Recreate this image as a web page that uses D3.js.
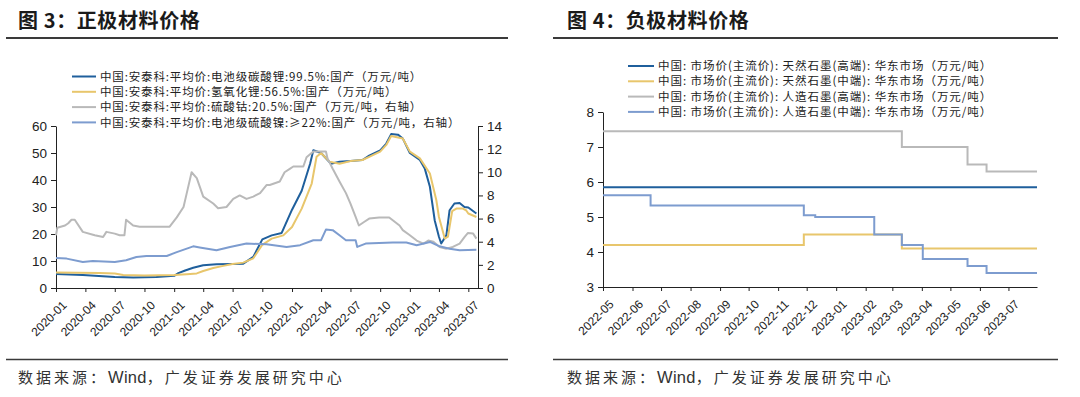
<!DOCTYPE html>
<html>
<head>
<meta charset="utf-8">
<script src="https://cdn.jsdelivr.net/npm/d3@7"></script>
<style>
  html, body { margin: 0; padding: 0; background: #fff; }
  svg { display: block; }
  .cjk { font-family: "Noto Sans CJK SC", sans-serif; }
</style>
</head>
<body>
<div id="chart"></div>
<script>
const parse = d3.timeParse('%Y-%m-%d');

// 图3: 正极材料价格 (万元/吨)
const li2co3 = [
  ['2020-01-01', 5.2], ['2020-03-24', 4.8], ['2020-07-01', 4.1], ['2020-08-27', 3.9], ['2020-11-07', 4.1],
  ['2021-01-01', 4.5], ['2021-01-14', 5.5], ['2021-02-04', 6.5], ['2021-03-01', 7.5], ['2021-04-01', 8.4],
  ['2021-05-12', 8.8], ['2021-07-01', 8.9], ['2021-08-03', 9.0], ['2021-09-03', 11.5], ['2021-10-01', 18],
  ['2021-10-30', 19.5], ['2021-11-30', 20.4], ['2022-01-01', 29], ['2022-01-31', 36], ['2022-02-26', 46],
  ['2022-03-08', 51], ['2022-04-01', 50], ['2022-05-02', 46], ['2022-05-28', 46.8], ['2022-07-01', 47],
  ['2022-08-07', 47.4], ['2022-08-28', 49], ['2022-10-01', 51], ['2022-10-20', 53.5], ['2022-11-04', 57],
  ['2022-11-25', 56.8], ['2022-12-10', 55.4], ['2023-01-01', 50], ['2023-02-01', 47.4], ['2023-02-16', 44.3],
  ['2023-03-04', 37.5], ['2023-03-19', 25], ['2023-04-01', 19], ['2023-04-08', 16.5], ['2023-04-24', 19.5],
  ['2023-05-04', 28.8], ['2023-05-19', 31.3], ['2023-06-04', 31.5], ['2023-06-19', 30], ['2023-07-01', 29.8],
  ['2023-07-26', 27.6]
];
const lioh = [
  ['2020-01-01', 5.7], ['2020-05-15', 5.6], ['2020-07-01', 5.4], ['2020-07-27', 4.8], ['2020-10-01', 4.6],
  ['2021-01-01', 4.8], ['2021-02-09', 5.1], ['2021-03-12', 5.4], ['2021-04-01', 6.3], ['2021-05-02', 7.4],
  ['2021-06-02', 8.2], ['2021-07-01', 8.9], ['2021-08-03', 9.4], ['2021-09-03', 11.0], ['2021-10-01', 16.0],
  ['2021-10-30', 18.3], ['2021-12-05', 19.5], ['2022-01-01', 22.6], ['2022-01-31', 29.4], ['2022-03-03', 38.7],
  ['2022-03-18', 48.6], ['2022-04-01', 50], ['2022-04-27', 46.8], ['2022-05-28', 46], ['2022-07-01', 47],
  ['2022-08-07', 47.4], ['2022-08-28', 48.6], ['2022-10-01', 50.5], ['2022-10-20', 53], ['2022-11-04', 56.3],
  ['2022-12-10', 55.4], ['2023-01-01', 50.5], ['2023-02-01', 48], ['2023-03-04', 42.4], ['2023-03-24', 32.5],
  ['2023-04-01', 26.3], ['2023-04-19', 18.3], ['2023-04-29', 19], ['2023-05-12', 28.5], ['2023-05-25', 29.4],
  ['2023-06-14', 29.4], ['2023-06-24', 28.8], ['2023-07-01', 27.6], ['2023-07-26', 26.3]
];
// right axis
const cobalt = [
  ['2020-01-01', 4.56], ['2020-01-05', 5.2], ['2020-01-29', 5.4], ['2020-02-08', 5.6], ['2020-02-18', 5.9],
  ['2020-02-28', 5.9], ['2020-03-24', 4.85], ['2020-04-30', 4.56], ['2020-05-26', 4.4], ['2020-06-05', 4.85],
  ['2020-07-01', 4.7], ['2020-07-16', 4.56], ['2020-07-31', 4.56], ['2020-08-05', 5.9], ['2020-08-27', 5.4],
  ['2020-09-16', 5.3], ['2020-12-18', 5.3], ['2021-01-09', 6.1], ['2021-01-30', 7.0], ['2021-02-09', 8.2],
  ['2021-02-24', 10.0], ['2021-03-12', 9.5], ['2021-04-01', 7.9], ['2021-05-02', 7.3], ['2021-05-17', 6.9],
  ['2021-06-12', 7.0], ['2021-07-03', 7.7], ['2021-07-23', 8.0], ['2021-08-13', 7.7], ['2021-09-03', 7.9],
  ['2021-09-24', 8.2], ['2021-10-14', 8.9], ['2021-10-24', 8.9], ['2021-11-24', 9.2], ['2021-12-09', 10.0],
  ['2021-12-25', 10.3], ['2022-01-05', 10.5], ['2022-02-05', 10.5], ['2022-02-15', 11.3], ['2022-03-08', 11.8],
  ['2022-04-16', 11.8], ['2022-04-21', 11.2], ['2022-05-07', 10.3], ['2022-05-28', 9.2], ['2022-06-17', 8.2],
  ['2022-07-01', 7.3], ['2022-07-17', 6.15], ['2022-07-27', 5.4], ['2022-08-12', 5.7], ['2022-08-28', 6.0],
  ['2022-09-28', 6.1], ['2022-10-29', 6.1], ['2022-11-09', 5.86], ['2022-11-30', 5.4], ['2022-12-10', 5.0],
  ['2023-01-01', 4.56], ['2023-01-22', 4.1], ['2023-02-12', 3.84], ['2023-02-27', 4.1], ['2023-03-15', 4.0],
  ['2023-04-03', 3.55], ['2023-04-24', 3.4], ['2023-05-14', 3.55], ['2023-06-04', 3.84], ['2023-06-19', 4.4],
  ['2023-06-30', 4.76], ['2023-07-16', 4.7], ['2023-07-26', 4.27]
];
const nickel = [
  ['2020-01-01', 2.6], ['2020-02-03', 2.54], ['2020-03-24', 2.25], ['2020-04-24', 2.34], ['2020-07-01', 2.25],
  ['2020-08-05', 2.4], ['2020-09-06', 2.68], ['2020-10-07', 2.77], ['2020-12-09', 2.77], ['2021-01-09', 3.1],
  ['2021-03-01', 3.6], ['2021-03-21', 3.5], ['2021-05-12', 3.26], ['2021-06-23', 3.55], ['2021-08-13', 3.84],
  ['2021-10-14', 3.78], ['2021-12-15', 3.55], ['2022-01-26', 3.7], ['2022-03-08', 4.13], ['2022-04-01', 4.13],
  ['2022-04-16', 5.05], ['2022-05-07', 5.0], ['2022-05-28', 4.56], ['2022-06-17', 4.13], ['2022-07-17', 4.13],
  ['2022-07-22', 3.55], ['2022-08-17', 3.84], ['2022-11-09', 3.93], ['2022-12-21', 3.93], ['2023-01-22', 3.7],
  ['2023-03-04', 3.98], ['2023-04-03', 3.6], ['2023-05-04', 3.4], ['2023-06-04', 3.26], ['2023-07-26', 3.3]
];
const leftTicks = ['2020-01', '2020-04', '2020-07', '2020-10', '2021-01', '2021-04', '2021-07', '2021-10',
  '2022-01', '2022-04', '2022-07', '2022-10', '2023-01', '2023-04', '2023-07'];
const leftNames = [
  '中国:安泰科:平均价:电池级碳酸锂:99.5%:国产（万元/吨）',
  '中国:安泰科:平均价:氢氧化锂:56.5%:国产（万元/吨）',
  '中国:安泰科:平均价:硫酸钴:20.5%:国产（万元/吨，右轴）',
  '中国:安泰科:平均价:电池级硫酸镍:≥22%:国产（万元/吨，右轴）'
];

// 图4: 负极材料价格 (万元/吨), step changes
const naturalHigh = [['2022-05-01', 5.85], ['2023-07-31', 5.85]];
const naturalMid = [['2022-05-01', 4.2], ['2022-11-28', 4.5], ['2023-03-11', 4.1], ['2023-07-31', 4.1]];
const artificialHigh = [['2022-05-01', 7.45], ['2023-03-11', 7.0], ['2023-05-19', 6.5], ['2023-06-08', 6.3], ['2023-07-31', 6.3]];
const artificialMid = [['2022-05-01', 5.62], ['2022-06-20', 5.33], ['2022-11-28', 5.05], ['2022-12-10', 5.0],
  ['2023-02-10', 4.5], ['2023-03-11', 4.2], ['2023-04-02', 3.8], ['2023-05-19', 3.6], ['2023-06-08', 3.4], ['2023-07-31', 3.4]];
const rightTicks = ['2022-05', '2022-06', '2022-07', '2022-08', '2022-09', '2022-10', '2022-11', '2022-12',
  '2023-01', '2023-02', '2023-03', '2023-04', '2023-05', '2023-06', '2023-07'];
const rightNames = [
  '中国: 市场价(主流价): 天然石墨(高端): 华东市场（万元/吨）',
  '中国: 市场价(主流价): 天然石墨(中端): 华东市场（万元/吨）',
  '中国: 市场价(主流价): 人造石墨(高端): 华东市场（万元/吨）',
  '中国: 市场价(主流价): 人造石墨(中端): 华东市场（万元/吨）'
];

const colors = ['#1f5f9c', '#e8c66c', '#b9b9b9', '#7d9ccf'];
const source = ['数据来源：', 'Wind', '，广发证券发展研究中心'];

const svg = d3.select('#chart').append('svg')
  .attr('width', 1080)
  .attr('height', 397);

svg.append('rect')
  .attr('width', 1080)
  .attr('height', 397)
  .attr('fill', '#fff');

const toPoints = arr => arr.map(d => ({ date: parse(d[0]), v: d[1] }));
const month = d3.timeParse('%Y-%m');

// frame: title, rules and source line
function frame(x0, x1, tx, title) {
  svg.append('text')
    .attr('class', 'cjk')
    .attr('x', tx)
    .attr('y', 28)
    .attr('font-size', 20)
    .attr('font-weight', 'bold')
    .attr('fill', '#1a1a1a')
    .attr('letter-spacing', 0.6)
    .text(title);
  svg.append('line')
    .attr('x1', x0).attr('x2', x1)
    .attr('y1', 38).attr('y2', 38)
    .attr('stroke', '#3a3a3a')
    .attr('stroke-width', 2);
  svg.append('line')
    .attr('x1', x0).attr('x2', x1)
    .attr('y1', 359.5).attr('y2', 359.5)
    .attr('stroke', '#3a3a3a')
    .attr('stroke-width', 1.5);
  const t = svg.append('text')
    .attr('class', 'cjk')
    .attr('x', tx)
    .attr('y', 383)
    .attr('font-size', 15)
    .attr('fill', '#333');
  t.append('tspan').attr('letter-spacing', 3).text(source[0]);
  t.append('tspan')
    .attr('font-family', '"Liberation Sans", Arial, sans-serif')
    .attr('font-size', 16.5)
    .attr('letter-spacing', 0.3)
    .text(source[1]);
  t.append('tspan').attr('letter-spacing', 3).text(source[2]);
}

function styleAxis(g, size) {
  g.attr('font-family', '"Liberation Sans", Arial, sans-serif')
    .attr('font-size', size);
  g.selectAll('text').attr('fill', '#222');
  g.selectAll('line').attr('stroke', '#222');
  g.select('.domain').attr('stroke', '#222');
}

function legend(names, lx, tx, y0, dy, spacing) {
  const g = svg.append('g');
  names.forEach((name, i) => {
    g.append('line')
      .attr('x1', lx).attr('x2', tx - 4)
      .attr('y1', y0 + i * dy).attr('y2', y0 + i * dy)
      .attr('stroke', colors[i])
      .attr('stroke-width', 2);
    g.append('text')
      .attr('class', 'cjk')
      .attr('x', tx)
      .attr('y', y0 + i * dy)
      .attr('dy', '0.36em')
      .attr('font-size', 11.5)
      .attr('letter-spacing', spacing)
      .attr('fill', '#222')
      .text(name);
  });
}

// ---------- left chart ----------
frame(6, 508, 18, '图 3：正极材料价格');

const xL = d3.scaleTime()
  .domain([parse('2020-01-01'), parse('2023-07-31')])
  .range([56, 478]);
const yL = d3.scaleLinear().domain([0, 60]).range([288, 126]);
const yL2 = d3.scaleLinear().domain([0, 14]).range([288, 126]);

svg.append('g')
  .attr('transform', 'translate(56,0)')
  .call(d3.axisLeft(yL).tickValues(d3.range(0, 61, 10)).tickSize(5).tickSizeOuter(0).tickPadding(4))
  .call(g => styleAxis(g, 13.5));

svg.append('g')
  .attr('transform', 'translate(478,0)')
  .call(d3.axisRight(yL2).tickValues(d3.range(0, 15, 2)).tickSize(5).tickSizeOuter(0).tickPadding(4))
  .call(g => styleAxis(g, 13.5));

svg.append('g')
  .attr('transform', 'translate(0,288)')
  .call(d3.axisBottom(xL).tickValues(leftTicks.map(month)).tickFormat(d3.timeFormat('%Y-%m')).tickSize(4).tickSizeOuter(0))
  .call(g => styleAxis(g, 12))
  .call(g => g.selectAll('text')
    .attr('text-anchor', 'end')
    .attr('dy', '0.35em')
    .attr('transform', 'translate(3,10) rotate(-45)'));

const lineL = d3.line().x(d => xL(d.date)).y(d => yL(d.v));
const lineL2 = d3.line().x(d => xL(d.date)).y(d => yL2(d.v));

[[li2co3, lineL], [lioh, lineL], [cobalt, lineL2], [nickel, lineL2]].forEach((s, i) => {
  svg.append('path')
    .datum(toPoints(s[0]))
    .attr('fill', 'none')
    .attr('stroke', colors[i])
    .attr('stroke-width', 2)
    .attr('stroke-linejoin', 'round')
    .attr('d', s[1]);
});

legend(leftNames, 72, 100, 76.5, 15.3, 0.85);

// ---------- right chart ----------
frame(553, 1058, 567, '图 4：负极材料价格');

const xR = d3.scaleTime()
  .domain([parse('2022-05-01'), parse('2023-07-31')])
  .range([603, 1037]);
const yR = d3.scaleLinear().domain([3, 8]).range([287, 112]);

svg.append('g')
  .attr('transform', 'translate(603,0)')
  .call(d3.axisLeft(yR).ticks(5).tickSize(5).tickSizeOuter(0).tickPadding(4))
  .call(g => styleAxis(g, 13.5));

svg.append('g')
  .attr('transform', 'translate(0,287)')
  .call(d3.axisBottom(xR).tickValues(rightTicks.map(month)).tickFormat(d3.timeFormat('%Y-%m')).tickSize(4).tickSizeOuter(0))
  .call(g => styleAxis(g, 12))
  .call(g => g.selectAll('text')
    .attr('text-anchor', 'end')
    .attr('dy', '0.35em')
    .attr('transform', 'translate(3,10) rotate(-45)'));

const lineR = d3.line().x(d => xR(d.date)).y(d => yR(d.v)).curve(d3.curveStepAfter);

[naturalHigh, naturalMid, artificialHigh, artificialMid].forEach((s, i) => {
  svg.append('path')
    .datum(toPoints(s))
    .attr('fill', 'none')
    .attr('stroke', colors[i])
    .attr('stroke-width', 2)
    .attr('d', lineR);
});

legend(rightNames, 628, 658, 66, 15.3, 0.95);
</script>
</body>
</html>
